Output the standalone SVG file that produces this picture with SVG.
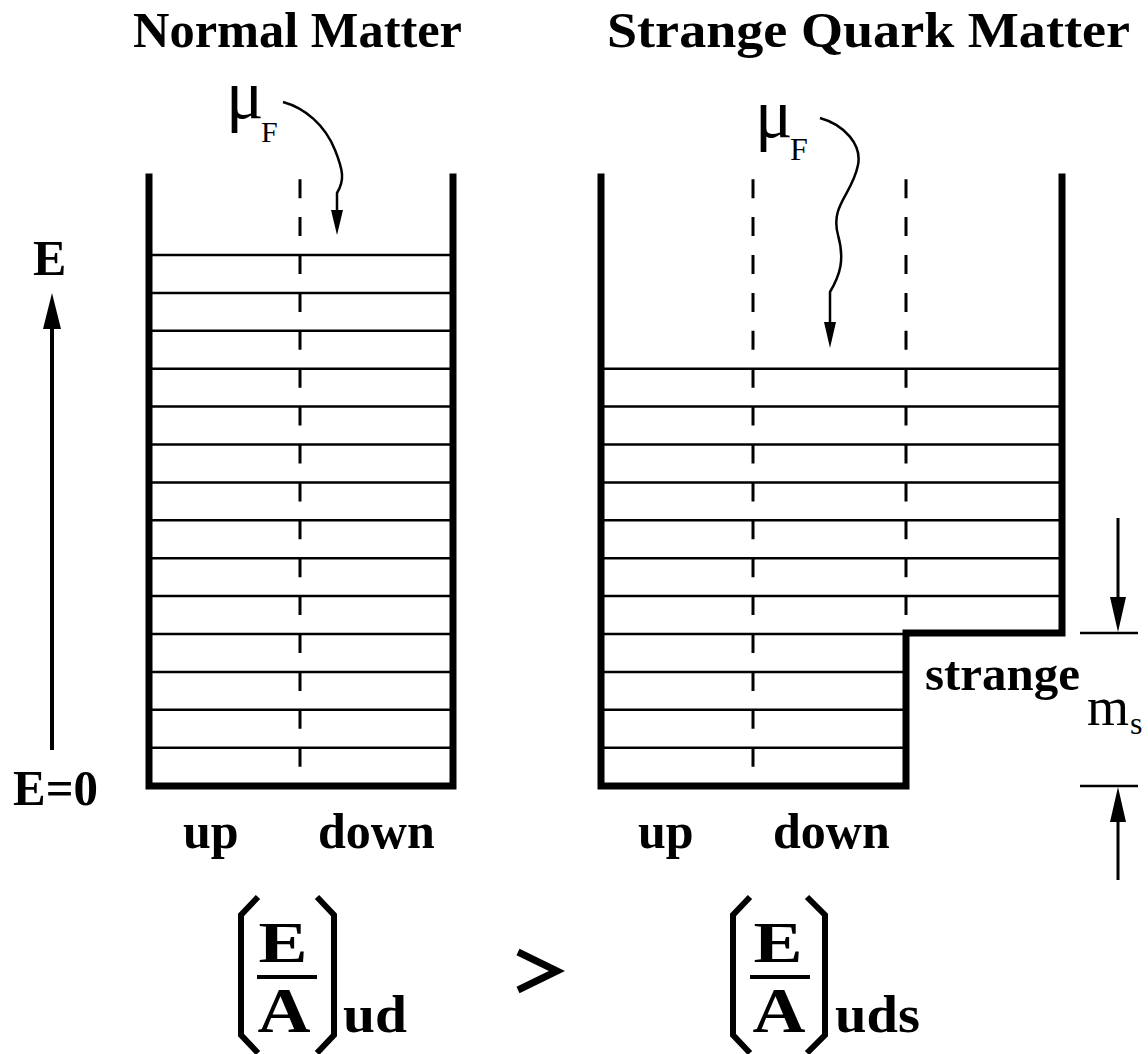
<svg xmlns="http://www.w3.org/2000/svg" width="1148" height="1054" viewBox="0 0 1148 1054">
<style>
text{font-family:"Liberation Serif","Times New Roman",serif;fill:#000}
.b{font-weight:bold}
.wall{fill:none;stroke:#000;stroke-width:7;stroke-linejoin:miter;stroke-linecap:square}
.lvl{stroke:#000;stroke-width:2.5}
.dash{stroke:#000;stroke-width:3;stroke-dasharray:19 18.9}
.ln{fill:none;stroke:#000;stroke-width:2.5}
.thick{fill:none;stroke:#000;stroke-width:4}
.par{fill:none;stroke:#000;stroke-width:6;stroke-linejoin:miter}
</style>
<rect width="1148" height="1054" fill="#fff"/>

<g id="title-normal"><text class="b" x="133" y="47" font-size="50" textLength="329" lengthAdjust="spacingAndGlyphs">Normal Matter</text></g>
<g id="title-strange"><text class="b" x="607" y="47" font-size="50" textLength="523" lengthAdjust="spacingAndGlyphs">Strange Quark Matter</text></g>

<g id="energy-axis">
<text class="b" x="33" y="275" font-size="50">E</text>
<text class="b" x="13" y="805" font-size="50" textLength="85" lengthAdjust="spacingAndGlyphs">E=0</text>
</g>

<g id="normal-well">
<g class="lvl">
<line x1="151" y1="255" x2="453" y2="255"/>
<line x1="151" y1="292.9" x2="453" y2="292.9"/>
<line x1="151" y1="330.8" x2="453" y2="330.8"/>
<line x1="151" y1="368.7" x2="453" y2="368.7"/>
<line x1="151" y1="406.6" x2="453" y2="406.6"/>
<line x1="151" y1="444.5" x2="453" y2="444.5"/>
<line x1="151" y1="482.4" x2="453" y2="482.4"/>
<line x1="151" y1="520.3" x2="453" y2="520.3"/>
<line x1="151" y1="558.2" x2="453" y2="558.2"/>
<line x1="151" y1="596.1" x2="453" y2="596.1"/>
<line x1="151" y1="634" x2="453" y2="634"/>
<line x1="151" y1="671.9" x2="453" y2="671.9"/>
<line x1="151" y1="709.8" x2="453" y2="709.8"/>
<line x1="151" y1="747.7" x2="453" y2="747.7"/>
</g>
<line class="dash" x1="300" y1="179.2" x2="300" y2="786"/>
<path class="wall" d="M149,177 L149,786 L453,786 L453,177"/>
<text class="b" x="183" y="848" font-size="50">up</text>
<text class="b" x="318" y="848" font-size="50">down</text>
</g>

<g id="strange-well">
<g class="lvl">
<line x1="604" y1="368.7" x2="1060" y2="368.7"/>
<line x1="604" y1="406.6" x2="1060" y2="406.6"/>
<line x1="604" y1="444.5" x2="1060" y2="444.5"/>
<line x1="604" y1="482.4" x2="1060" y2="482.4"/>
<line x1="604" y1="520.3" x2="1060" y2="520.3"/>
<line x1="604" y1="558.2" x2="1060" y2="558.2"/>
<line x1="604" y1="596.1" x2="1060" y2="596.1"/>
<line x1="604" y1="634" x2="906" y2="634"/>
<line x1="604" y1="671.9" x2="906" y2="671.9"/>
<line x1="604" y1="709.8" x2="906" y2="709.8"/>
<line x1="604" y1="747.7" x2="906" y2="747.7"/>
</g>
<line class="dash" x1="753" y1="179.2" x2="753" y2="786"/>
<line class="dash" x1="906" y1="179.2" x2="906" y2="633"/>
<path class="wall" d="M601,177 L601,786 L906,786 L906,633 L1062,633 L1062,177"/>
<text class="b" x="638" y="848" font-size="50">up</text>
<text class="b" x="773" y="848" font-size="50">down</text>
</g>

<g id="mu-left">
<text x="226" y="118" font-size="70">μ</text>
<text x="261" y="142" font-size="30">F</text>
</g>
<g id="mu-right">
<text x="755" y="137" font-size="70">μ</text>
<text x="790" y="160" font-size="32">F</text>
</g>

<g id="strange-label">
<text class="b" x="925" y="690" font-size="48" textLength="155" lengthAdjust="spacingAndGlyphs">strange</text>
<text x="1087" y="725" font-size="54">m</text>
<text x="1130" y="734" font-size="32">s</text>
</g>

<g id="formula-left">
<polyline class="par" points="258,897 241,915 241,1035 258,1053"/>
<polyline class="par" points="317,897 334,915 334,1035 317,1053"/>
<text class="b" x="283" y="962" font-size="58" text-anchor="middle" textLength="49" lengthAdjust="spacingAndGlyphs">E</text>
<line class="thick" x1="257" y1="977" x2="317" y2="977"/>
<text class="b" x="284" y="1032" font-size="64" text-anchor="middle" textLength="53" lengthAdjust="spacingAndGlyphs">A</text>
<text class="b" x="343" y="1032" font-size="52" textLength="64" lengthAdjust="spacingAndGlyphs">ud</text>
</g>

<g id="greater-than">
<polyline points="518,952 557,971 518,990" fill="none" stroke="#000" stroke-width="7" stroke-linejoin="miter"/>
</g>

<g id="formula-right">
<polyline class="par" points="750,897 733,915 733,1035 750,1053"/>
<polyline class="par" points="807,897 825,915 825,1035 807,1053"/>
<text class="b" x="778" y="962" font-size="58" text-anchor="middle" textLength="49" lengthAdjust="spacingAndGlyphs">E</text>
<line class="thick" x1="750" y1="977" x2="810" y2="977"/>
<text class="b" x="779" y="1032" font-size="64" text-anchor="middle" textLength="53" lengthAdjust="spacingAndGlyphs">A</text>
<text class="b" x="835" y="1032" font-size="52" textLength="85" lengthAdjust="spacingAndGlyphs">uds</text>
</g>

<g id="connectors">
<line x1="52" y1="750" x2="52" y2="320" stroke="#000" stroke-width="4"/>
<polygon points="52,293 43,329 61,329" fill="#000"/>
<path class="ln" d="M283,102 C305,108 325,125 335,150 C343,170 345,180 337,193 L337,214"/>
<polygon points="337,235 331,210 343,210" fill="#000"/>
<path class="ln" d="M820,118 C845,125 862,145 858,165 C852,195 830,205 838,235 C845,260 840,275 830,292 L830,326"/>
<polygon points="830,348 824,322 836,322" fill="#000"/>
<line x1="1080" y1="633" x2="1138" y2="633" stroke="#000" stroke-width="2.5"/>
<line x1="1080" y1="786" x2="1138" y2="786" stroke="#000" stroke-width="2.5"/>
<line x1="1118" y1="518" x2="1118" y2="605" stroke="#000" stroke-width="3"/>
<polygon points="1118,632 1110,597 1126,597" fill="#000"/>
<line x1="1118" y1="880" x2="1118" y2="815" stroke="#000" stroke-width="3"/>
<polygon points="1118,787 1110,822 1126,822" fill="#000"/>
</g>
</svg>
